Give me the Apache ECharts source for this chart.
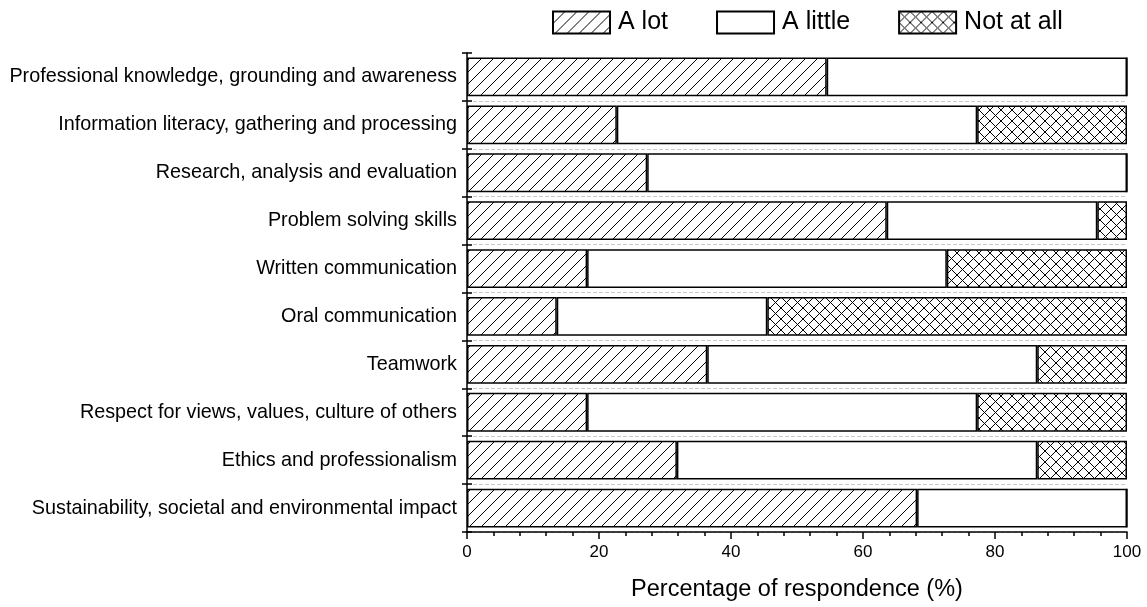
<!DOCTYPE html>
<html>
<head>
<meta charset="utf-8">
<script src="https://cdn.jsdelivr.net/npm/echarts@6/dist/echarts.min.js"></script>
<style>
  html, body { margin: 0; padding: 0; background: #fff; }
  #main { width: 1147px; height: 607px; }
</style>
</head>
<body>
<div id="main"></div>
<script>
const categories = [
  "Professional knowledge, grounding and awareness",
  "Information literacy, gathering and processing",
  "Research, analysis and evaluation",
  "Problem solving skills",
  "Written communication",
  "Oral communication",
  "Teamwork",
  "Respect for views, values, culture of others",
  "Ethics and professionalism",
  "Sustainability, societal and environmental impact"
];
const aLot = [54.5, 22.7, 27.3, 63.6, 18.2, 13.6, 36.4, 18.2, 31.8, 68.2];
const aLittle = [45.5, 54.6, 72.7, 31.9, 54.5, 31.9, 50.0, 59.1, 54.6, 31.8];
const notAtAll = [0, 22.7, 0, 4.5, 27.3, 54.5, 13.6, 22.7, 13.6, 0];
const xTicks = [0, 20, 40, 60, 80, 100];

// pattern tiles
const makeTile = (size, draw) => {
  const c = document.createElement("canvas");
  c.width = size;
  c.height = size;
  const ctx = c.getContext("2d");
  ctx.fillStyle = "#fff";
  ctx.fillRect(0, 0, size, size);
  ctx.strokeStyle = "#000";
  ctx.lineWidth = 1;
  draw(ctx, size);
  return { image: c, repeat: "repeat" };
};
const hatch = makeTile(12, (ctx, s) => {
  ctx.beginPath();
  ctx.moveTo(-1, s + 1); ctx.lineTo(s + 1, -1);
  ctx.moveTo(-1, 1); ctx.lineTo(1, -1);
  ctx.moveTo(s - 1, s + 1); ctx.lineTo(s + 1, s - 1);
  ctx.stroke();
});
const cross = makeTile(11, (ctx, s) => {
  ctx.beginPath();
  ctx.moveTo(-1, s + 1); ctx.lineTo(s + 1, -1);
  ctx.moveTo(-1, -1); ctx.lineTo(s + 1, s + 1);
  ctx.stroke();
});

const chart = echarts.init(document.getElementById("main"));
const makeSeries = (name, data, color) => ({
  name,
  type: "bar",
  stack: "total",
  barWidth: "81%",
  data,
  itemStyle: { color, borderColor: "#000", borderWidth: 1.5 }
});
const tickStyle = { color: "#000", width: 1.5 };

chart.setOption({
  animation: false,
  textStyle: { fontFamily: "Liberation Sans, Arial, sans-serif" },
  legend: {
    left: 547,
    top: 5,
    itemWidth: 57,
    itemHeight: 22,
    itemGap: 48,
    icon: "rect",
    textStyle: { fontSize: 25, color: "#000", padding: [0, 0, 0, 3] },
    data: ["A lot", "A little", "Not at all"]
  },
  grid: { left: 467, right: 20, top: 53, bottom: 74, containLabel: false },
  xAxis: {
    type: "value",
    min: xTicks[0],
    max: xTicks[xTicks.length - 1],
    interval: 20,
    name: "Percentage of respondence (%)",
    nameLocation: "middle",
    nameGap: 46,
    nameTextStyle: { fontSize: 23.5, color: "#000" },
    axisLine: { show: true, lineStyle: tickStyle },
    axisTick: { show: true, length: 7, lineStyle: tickStyle },
    minorTick: { show: true, splitNumber: 5, length: 4, lineStyle: tickStyle },
    splitLine: { show: false },
    axisLabel: { fontSize: 17, color: "#000", margin: 12 }
  },
  yAxis: [
    {
      type: "category",
      inverse: true,
      data: categories,
      axisLine: { show: true, lineStyle: tickStyle },
      axisTick: { show: true, length: 5, lineStyle: tickStyle },
      splitLine: {
        show: true,
        interval: (i) => i > 0,
        lineStyle: { color: "#c8c8c8", type: "dashed", width: 1 }
      },
      axisLabel: { fontSize: 19.8, color: "#000", margin: 10 }
    },
    {
      // inner half of the crossing boundary ticks
      type: "category",
      inverse: true,
      position: "left",
      data: categories,
      axisLine: { show: false },
      axisTick: { show: true, inside: true, length: 5, lineStyle: tickStyle },
      axisLabel: { show: false },
      splitLine: { show: false }
    },
    {
      // small ticks at category centres
      type: "category",
      inverse: true,
      position: "left",
      data: categories,
      axisLine: { show: false },
      axisTick: { show: true, inside: true, alignWithLabel: true, length: 3, lineStyle: { color: "#000", width: 1 } },
      axisLabel: { show: false },
      splitLine: { show: false }
    }
  ],
  series: [
    makeSeries("A lot", aLot, hatch),
    makeSeries("A little", aLittle, "#fff"),
    makeSeries("Not at all", notAtAll, cross)
  ]
});
</script>
</body>
</html>
